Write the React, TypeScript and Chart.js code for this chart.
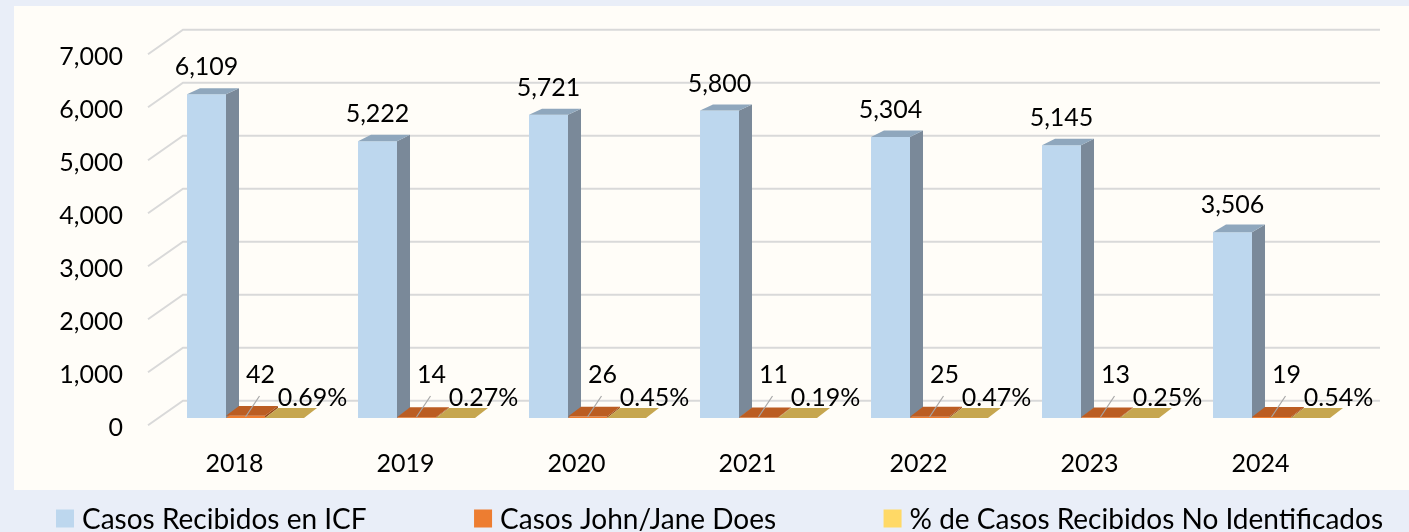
import React, { useEffect, useRef } from 'react';
import { Chart, registerables } from 'chart.js';

Chart.register(...registerables);

// ---- data ----
const years = ['2018', '2019', '2020', '2021', '2022', '2023', '2024'];
const casosRecibidos = [6109, 5222, 5721, 5800, 5304, 5145, 3506];
const casosJohnJane = [42, 14, 26, 11, 25, 13, 19];
const pctNoIdentificados = [0.69, 0.27, 0.45, 0.19, 0.47, 0.25, 0.54];
const seriesNames = ['Casos Recibidos en ICF', 'Casos John/Jane Does', '% de Casos Recibidos No Identificados'];
const yMin = 0;
const yMax = 7000;
const yStep = 1000;

// ---- styles ----
const frontColors = ['#bdd7ee', '#ed7d31', '#ffd966'];
const topColors = ['#8fa7bd', '#bb5d22', '#c6a64f'];
const sideColors = ['#7a8999', '#9a4a18', '#a88b3e'];
const FONT = 'Lato, "Open Sans", sans-serif';
const FONT_SIZE = 25;
const LEGEND_FONT_SIZE = 28;
const TEXT = '#000000';

const DX = 13;
const depthDy = (y: number) => -(5.8 + Math.max(0, y - 90) * 0.0125);

const fmt = (v: number) => v.toLocaleString('en-US');

const bar3d = {
  id: 'bar3d',
  beforeDatasetsDraw(chart: any) {
    const { ctx, chartArea: a } = chart;
    const ys = chart.scales.y;
    ctx.save();
    ctx.strokeStyle = '#d9d9d9';
    ctx.lineWidth = 2;
    ys.ticks.forEach((t: any) => {
      const py = ys.getPixelForValue(t.value);
      ctx.beginPath();
      ctx.moveTo(a.left - 12, py + 7.3);
      ctx.lineTo(a.left + 23, py - 17.3);
      ctx.lineTo(a.right + 23, py - 17.3);
      ctx.stroke();
    });
    ctx.restore();
  },
  afterDatasetsDraw(chart: any) {
    const { ctx } = chart;
    ctx.save();
    chart.data.datasets.forEach((ds: any, di: number) => {
      const meta = chart.getDatasetMeta(di);
      meta.data.forEach((bar: any) => {
        const { x, y, base, width } = bar.getProps(['x', 'y', 'base', 'width'], true);
        const l = x - width / 2;
        const r = x + width / 2;
        const dyT = depthDy(y);
        const dyB = depthDy(base);
        ctx.fillStyle = sideColors[di];
        ctx.beginPath();
        ctx.moveTo(r, y);
        ctx.lineTo(r + DX, y + dyT);
        ctx.lineTo(r + DX, base + dyB);
        ctx.lineTo(r, base);
        ctx.closePath();
        ctx.fill();
        ctx.fillStyle = topColors[di];
        ctx.beginPath();
        ctx.moveTo(l, y);
        ctx.lineTo(l + DX, y + dyT);
        ctx.lineTo(r + DX, y + dyT);
        ctx.lineTo(r, y);
        ctx.closePath();
        ctx.fill();
      });
    });
    ctx.font = `${FONT_SIZE}px ${FONT}`;
    ctx.fillStyle = TEXT;
    ctx.textAlign = 'center';
    ctx.textBaseline = 'middle';
    chart.data.datasets.forEach((ds: any, di: number) => {
      const meta = chart.getDatasetMeta(di);
      meta.data.forEach((bar: any, i: number) => {
        const { x, y, base } = bar.getProps(['x', 'y', 'base'], true);
        const v = ds.data[i];
        if (di === 0) {
          ctx.fillText(fmt(v), x, y - 27);
        } else if (di === 1) {
          ctx.strokeStyle = '#a6a6a6';
          ctx.lineWidth = 1.2;
          ctx.beginPath();
          ctx.moveTo(x, base - 1);
          ctx.lineTo(x + 14, base - 22);
          ctx.stroke();
          ctx.fillText(fmt(v), x + 15, base - 43);
        } else {
          ctx.fillText(v.toFixed(2) + '%', x + 28, base - 20.5);
        }
      });
    });
    ctx.restore();
  },
};

const customLegend = {
  id: 'customLegend',
  afterDraw(chart: any) {
    const { ctx } = chart;
    ctx.save();
    ctx.font = `${LEGEND_FONT_SIZE}px ${FONT}`;
    ctx.textBaseline = 'middle';
    ctx.textAlign = 'left';
    const box = 18;
    const gapText = 8;
    const startX = 56;
    const endX = 1383;
    const widths = chart.data.datasets.map((d: any) => ctx.measureText(d.label).width);
    const used = widths.reduce((s: number, w: number) => s + box + gapText + w, 0);
    const gap = (endX - startX - used) / Math.max(1, widths.length - 1);
    let x = startX;
    const cy = 518.5;
    chart.data.datasets.forEach((d: any, i: number) => {
      ctx.fillStyle = frontColors[i];
      ctx.fillRect(x, cy - box / 2, box, box);
      ctx.fillStyle = TEXT;
      ctx.fillText(d.label, x + box + gapText, cy + 1);
      x += box + gapText + widths[i] + gap;
    });
    ctx.restore();
  },
};

export default function App() {
  const ref = useRef<HTMLCanvasElement>(null);

  useEffect(() => {
    document.body.style.margin = '0';
    document.body.style.overflow = 'hidden';
    const canvas = ref.current;
    if (!canvas) return;
    const chart = new Chart(canvas, {
      type: 'bar',
      data: {
        labels: years,
        datasets: [
          { label: seriesNames[0], data: casosRecibidos, backgroundColor: frontColors[0], borderWidth: 0 },
          { label: seriesNames[1], data: casosJohnJane, backgroundColor: frontColors[1], borderWidth: 0 },
          { label: seriesNames[2], data: pctNoIdentificados, backgroundColor: frontColors[2], borderWidth: 0 },
        ],
      },
      options: {
        responsive: false,
        animation: false,
        devicePixelRatio: 1,
        layout: { padding: { top: 47, left: 0, right: 0, bottom: 0 } },
        datasets: { bar: { categoryPercentage: 0.684, barPercentage: 1 } },
        plugins: {
          legend: { display: false },
          tooltip: { enabled: false },
        },
        scales: {
          x: {
            grid: { display: false },
            border: { display: false },
            ticks: {
              font: { family: FONT, size: FONT_SIZE },
              color: TEXT,
              padding: 23,
              labelOffset: -11,
              maxRotation: 0,
              autoSkip: false,
            },
            afterFit: (s: any) => { s.height = 114; },
          },
          y: {
            min: yMin,
            max: yMax,
            grid: { display: false, drawTicks: true, tickLength: 35 },
            border: { display: false },
            ticks: {
              stepSize: yStep,
              font: { family: FONT, size: FONT_SIZE },
              color: TEXT,
              padding: 2,
              labelOffset: 10,
              callback: (v: any) => fmt(Number(v)),
            },
            afterFit: (s: any) => { s.width = 160; },
          },
          y2: {
            type: 'linear',
            position: 'right',
            display: true,
            grid: { display: false, drawTicks: false },
            border: { display: false },
            ticks: { display: false },
            afterFit: (s: any) => { s.width = 52; },
          },
        },
      },
      plugins: [bar3d, customLegend],
    } as any);
    return () => chart.destroy();
  }, []);

  return (
    <div style={{ position: 'relative', width: 1409, height: 532, background: '#e9eef8', overflow: 'hidden' }}>
      <div style={{ position: 'absolute', left: 14, top: 6, width: 1395, height: 484, background: '#fffdf8' }} />
      <canvas ref={ref} width={1409} height={532} style={{ position: 'absolute', left: 0, top: 0, width: 1409, height: 532 }} />
    </div>
  );
}
